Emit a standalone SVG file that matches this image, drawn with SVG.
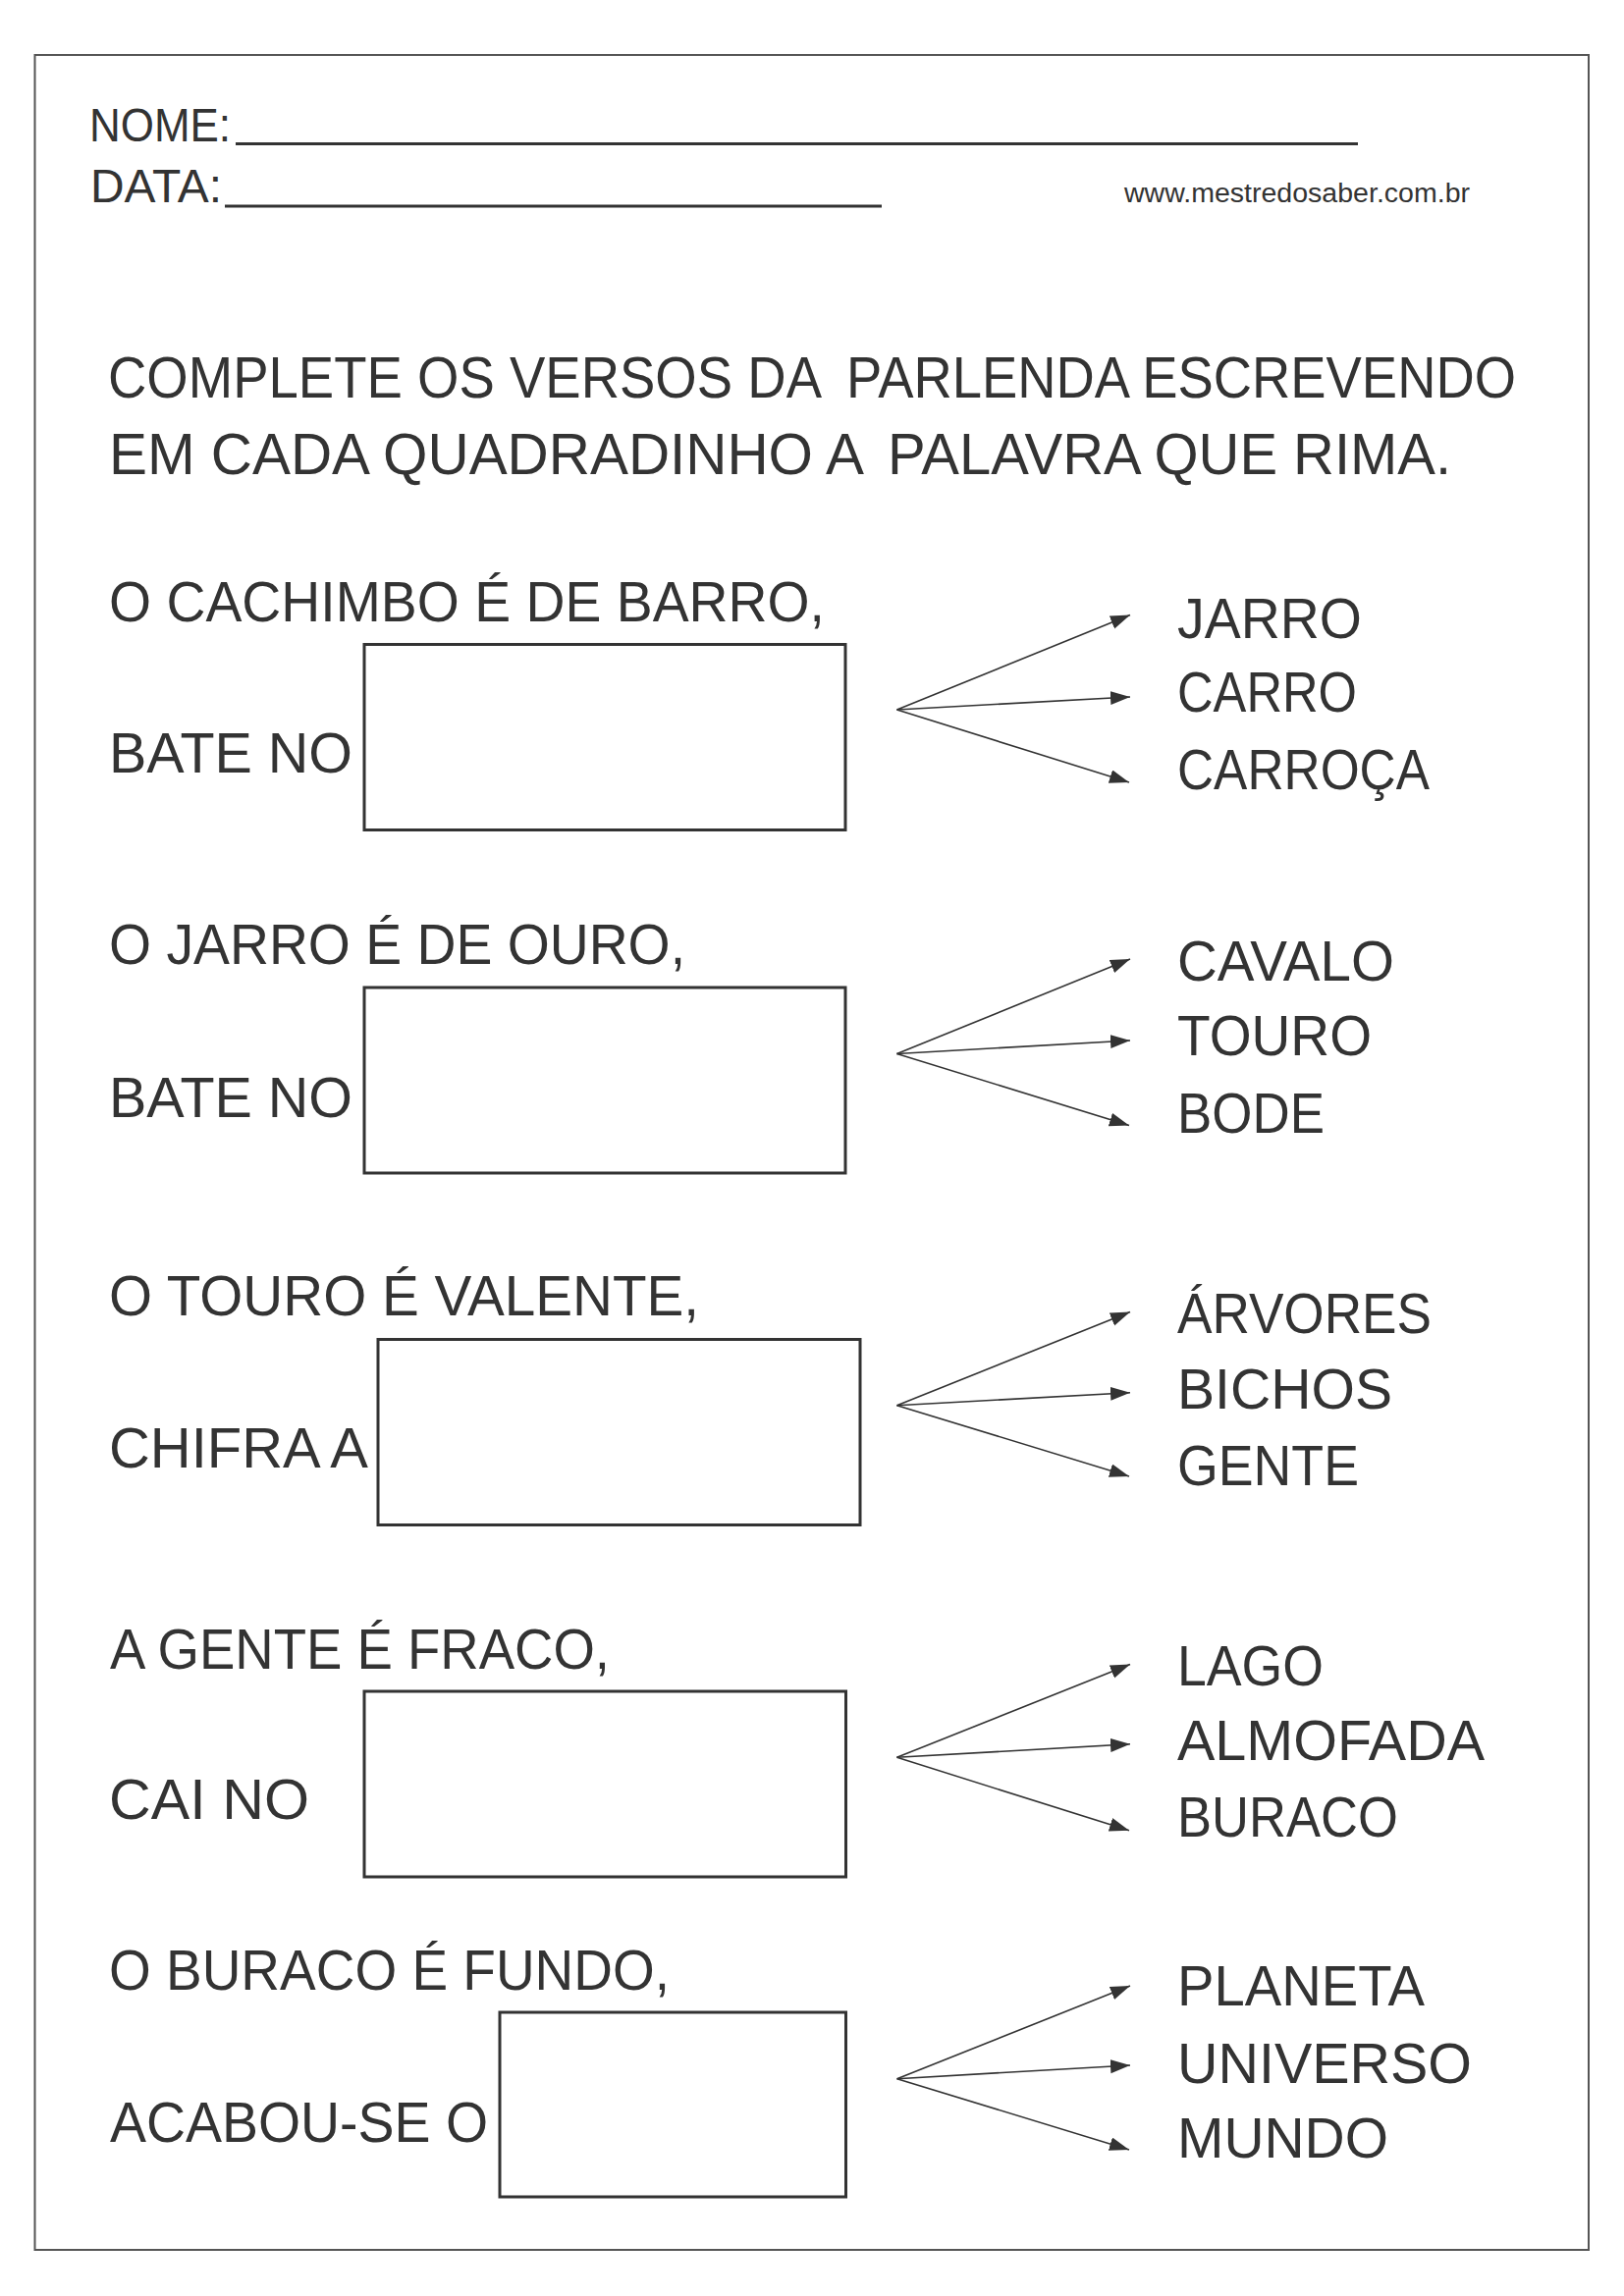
<svg xmlns="http://www.w3.org/2000/svg" width="1654" height="2339" viewBox="0 0 1654 2339">
<style>
text{font-family:"Liberation Sans","DejaVu Sans",sans-serif;fill:#333;}
.v{font-size:58px;}
.w{font-size:58px;}
.h{font-size:48px;}
.t{font-size:60px;}
.u{font-size:27px;}
.box{fill:none;stroke:#333;stroke-width:3;}
.arr{fill:none;stroke:#333;stroke-width:1.6;marker-end:url(#ah);}
.ul{stroke:#333;stroke-width:3;}
</style>
<defs>
<marker id="ah" markerUnits="userSpaceOnUse" markerWidth="22" markerHeight="16" refX="20" refY="7" orient="auto">
<path d="M0,0 L20,7 L0,14 Z" fill="#333"/>
</marker>
</defs>
<rect x="0" y="0" width="1654" height="2339" fill="#fff"/>
<rect x="35.5" y="56" width="1582.5" height="2236" fill="none" stroke="#555" stroke-width="2"/>
<g id="header">
<text class="h" x="91" y="143.5" textLength="144" lengthAdjust="spacingAndGlyphs">NOME:</text>
<line class="ul" x1="240" y1="146.5" x2="1383" y2="146.5"/>
<text class="h" x="92" y="206" textLength="134" lengthAdjust="spacingAndGlyphs">DATA:</text>
<line class="ul" x1="229" y1="210" x2="898" y2="210"/>
<text class="u" x="1145" y="205.5" textLength="352" lengthAdjust="spacingAndGlyphs">www.mestredosaber.com.br</text>
</g>
<g id="title">
<text class="t" x="110" y="405" textLength="727" lengthAdjust="spacingAndGlyphs">COMPLETE OS VERSOS DA</text>
<text class="t" x="862" y="405" textLength="682" lengthAdjust="spacingAndGlyphs">PARLENDA ESCREVENDO</text>
<text class="t" x="111" y="483" textLength="769" lengthAdjust="spacingAndGlyphs">EM CADA QUADRADINHO A</text>
<text class="t" x="904" y="483" textLength="574" lengthAdjust="spacingAndGlyphs">PALAVRA QUE RIMA.</text>
</g>
<g id="block1">
<text class="v" x="111" y="633" textLength="729" lengthAdjust="spacingAndGlyphs">O CACHIMBO É DE BARRO,</text>
<text class="v" x="111" y="786.5" textLength="248" lengthAdjust="spacingAndGlyphs">BATE NO</text>
<rect id="box1" class="box" x="371" y="656.5" width="490" height="189"/>
<text class="w" x="1199" y="650" textLength="188" lengthAdjust="spacingAndGlyphs">JARRO</text>
<text class="w" x="1199" y="725" textLength="183" lengthAdjust="spacingAndGlyphs">CARRO</text>
<text class="w" x="1199" y="804" textLength="257" lengthAdjust="spacingAndGlyphs">CARROÇA</text>
</g>
<g id="block2">
<text class="v" x="111" y="982" textLength="587" lengthAdjust="spacingAndGlyphs">O JARRO É DE OURO,</text>
<text class="v" x="111" y="1137.5" textLength="248" lengthAdjust="spacingAndGlyphs">BATE NO</text>
<rect id="box2" class="box" x="371" y="1006" width="490" height="189"/>
<text class="w" x="1199" y="999" textLength="221" lengthAdjust="spacingAndGlyphs">CAVALO</text>
<text class="w" x="1199" y="1075" textLength="198" lengthAdjust="spacingAndGlyphs">TOURO</text>
<text class="w" x="1199" y="1154" textLength="150" lengthAdjust="spacingAndGlyphs">BODE</text>
</g>
<g id="block3">
<text class="v" x="111" y="1340" textLength="601" lengthAdjust="spacingAndGlyphs">O TOURO É VALENTE,</text>
<text class="v" x="111" y="1495" textLength="264" lengthAdjust="spacingAndGlyphs">CHIFRA A</text>
<rect id="box3" class="box" x="385" y="1364.5" width="491" height="189"/>
<text class="w" x="1199" y="1357.5" textLength="259" lengthAdjust="spacingAndGlyphs">ÁRVORES</text>
<text class="w" x="1199" y="1434.5" textLength="219" lengthAdjust="spacingAndGlyphs">BICHOS</text>
<text class="w" x="1199" y="1512.5" textLength="185" lengthAdjust="spacingAndGlyphs">GENTE</text>
</g>
<g id="block4">
<text class="v" x="112" y="1700" textLength="509" lengthAdjust="spacingAndGlyphs">A GENTE É FRACO,</text>
<text class="v" x="111" y="1852.5" textLength="204" lengthAdjust="spacingAndGlyphs">CAI NO</text>
<rect id="box4" class="box" x="371" y="1723" width="490.5" height="189"/>
<text class="w" x="1199" y="1716.5" textLength="149" lengthAdjust="spacingAndGlyphs">LAGO</text>
<text class="w" x="1199" y="1792.5" textLength="313" lengthAdjust="spacingAndGlyphs">ALMOFADA</text>
<text class="w" x="1199" y="1870.5" textLength="225" lengthAdjust="spacingAndGlyphs">BURACO</text>
</g>
<g id="block5">
<text class="v" x="111" y="2026.5" textLength="571" lengthAdjust="spacingAndGlyphs">O BURACO É FUNDO,</text>
<text class="v" x="112" y="2181.5" textLength="385" lengthAdjust="spacingAndGlyphs">ACABOU-SE O</text>
<rect id="box5" class="box" x="509" y="2050" width="352.5" height="188"/>
<text class="w" x="1199" y="2043" textLength="252" lengthAdjust="spacingAndGlyphs">PLANETA</text>
<text class="w" x="1199" y="2121.5" textLength="300" lengthAdjust="spacingAndGlyphs">UNIVERSO</text>
<text class="w" x="1199" y="2198" textLength="215" lengthAdjust="spacingAndGlyphs">MUNDO</text>
</g>
<g id="connectors">
<line class="arr" x1="913.5" y1="723" x2="1151" y2="626.5"/>
<line class="arr" x1="913.5" y1="723" x2="1151" y2="710"/>
<line class="arr" x1="913.5" y1="723" x2="1150" y2="797"/>
<line class="arr" x1="913.5" y1="1073.5" x2="1151" y2="977"/>
<line class="arr" x1="913.5" y1="1073.5" x2="1151" y2="1060"/>
<line class="arr" x1="913.5" y1="1073.5" x2="1150" y2="1146.5"/>
<line class="arr" x1="913.5" y1="1431.7" x2="1151" y2="1336.6"/>
<line class="arr" x1="913.5" y1="1431.7" x2="1151" y2="1418.7"/>
<line class="arr" x1="913.5" y1="1431.7" x2="1150" y2="1504"/>
<line class="arr" x1="913.5" y1="1790.3" x2="1151" y2="1695.6"/>
<line class="arr" x1="913.5" y1="1790.3" x2="1151" y2="1776.8"/>
<line class="arr" x1="913.5" y1="1790.3" x2="1150" y2="1864.8"/>
<line class="arr" x1="913.6" y1="2117.7" x2="1151" y2="2023"/>
<line class="arr" x1="913.6" y1="2117.7" x2="1151" y2="2104"/>
<line class="arr" x1="913.6" y1="2117.7" x2="1150" y2="2190"/>
</g>
</svg>
